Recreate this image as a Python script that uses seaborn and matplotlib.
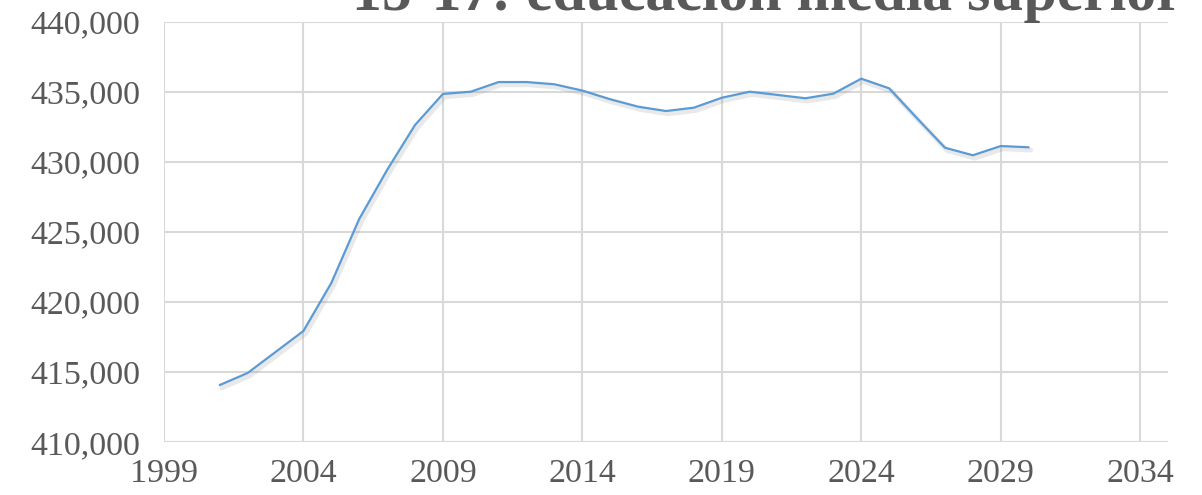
import matplotlib
matplotlib.use("Agg")
import matplotlib.pyplot as plt
import matplotlib.patheffects as pe
from matplotlib.ticker import FuncFormatter, MultipleLocator
import pandas as pd
import seaborn as sns

# Population 15-17
years = list(range(2001, 2031))
population = [
    414070, 414930, 416430, 417930, 421360, 425930, 429430, 432640, 434860, 435020,
    435710, 435710, 435550, 435100, 434480, 433950, 433640, 433880, 434590, 435020,
    434790, 434550, 434880, 435950, 435260, 433120, 431020, 430480, 431140, 431050,
]
xticks = list(range(1999, 2035, 5))
title = "15-17: educación media superior"

df = pd.DataFrame({"year": years, "population": population})

sns.set_style("white")
plt.rcParams["font.family"] = ["Liberation Serif", "DejaVu Serif"]

fig = plt.figure(figsize=(12.02, 4.95), dpi=100)
ax = fig.add_axes([0.1364, 0.107, 0.8354, 0.8486])

sns.lineplot(
    data=df, x="year", y="population", ax=ax, color="#5b9bd5", linewidth=1.6,
    path_effects=[pe.SimpleLineShadow(offset=(1.5, -2.0), shadow_color="#888888", alpha=0.18,
                                      linewidth=3.5),
                  pe.Normal()],
)

ax.set_xlim(1999, 2035)
ax.set_ylim(410000, 440000)
ax.set_xticks(xticks)
ax.yaxis.set_major_locator(MultipleLocator(5000))
ax.yaxis.set_major_formatter(FuncFormatter(lambda v, p: f"{int(v):,}"))
ax.grid(True, color="#d9d9d9", linewidth=1.5)
for s in ax.spines.values():
    s.set_visible(False)
# horizontal grid runs to the right edge, vertical grid stops at 2034
ax.axhline(410000, color="#d9d9d9", linewidth=1.5)
ax.tick_params(axis="both", length=0, labelsize=24.5, colors="#595959")
ax.tick_params(axis="y", pad=17)
ax.tick_params(axis="x", pad=12)
ax.set_xlabel("")
ax.set_ylabel("")

fig.text(0.638, 0.98, title, ha="center", va="baseline", fontsize=43,
         fontweight="bold", color="#595959")

fig.savefig("out.png", dpi=100)
